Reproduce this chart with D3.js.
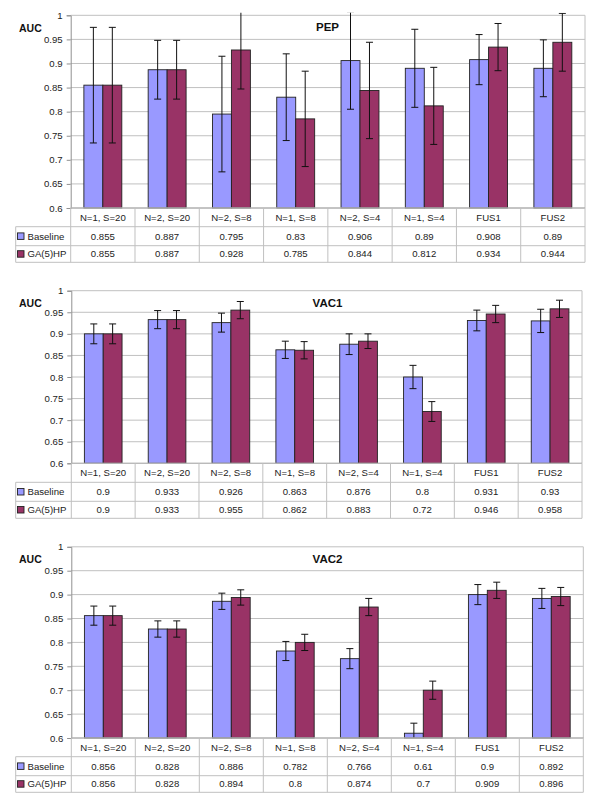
<!DOCTYPE html>
<html><head><meta charset="utf-8">
<script src="https://cdn.jsdelivr.net/npm/d3@7"></script>
<style>
html,body{margin:0;padding:0;background:#fff;}
svg{display:block;font-family:Arial,"Liberation Sans",sans-serif;}
</style></head>
<body>
<svg id="c" width="600" height="811"></svg>
<script>
const categories = ["N=1, S=20","N=2, S=20","N=2, S=8","N=1, S=8","N=2, S=4","N=1, S=4","FUS1","FUS2"];
const seriesNames = ["Baseline","GA(5)HP"];
const seriesColors = ["#9999ff","#993366"];
const yTicks = [0.6,0.65,0.7,0.75,0.8,0.85,0.9,0.95,1];
const yTickLabels = ["0.6","0.65","0.7","0.75","0.8","0.85","0.9","0.95","1"];
const tableLabels = {"PEP":[["0.855","0.887","0.795","0.83","0.906","0.89","0.908","0.89"],["0.855","0.887","0.928","0.785","0.844","0.812","0.934","0.944"]]};

const pepBaseline = [0.855,0.887,0.795,0.83,0.906,0.89,0.908,0.89];
const pepGA       = [0.855,0.887,0.928,0.785,0.844,0.812,0.934,0.944];
const pepBaselineErr = [0.12,0.061,0.12,0.09,0.101,0.081,0.052,0.059];
const pepGAErr       = [0.12,0.061,0.081,0.099,0.1,0.08,0.049,0.06];

const vac1Baseline = [0.9,0.933,0.926,0.863,0.876,0.8,0.931,0.93];
const vac1GA       = [0.9,0.933,0.955,0.862,0.883,0.72,0.946,0.958];
const vac1BaselineErr = [0.023,0.021,0.022,0.02,0.024,0.027,0.024,0.027];
const vac1GAErr       = [0.023,0.021,0.02,0.02,0.017,0.023,0.02,0.02];

const vac2Baseline = [0.856,0.828,0.886,0.782,0.766,0.61,0.9,0.892];
const vac2GA       = [0.856,0.828,0.894,0.8,0.874,0.7,0.909,0.896];
const vac2BaselineErr = [0.02,0.017,0.017,0.02,0.021,0.021,0.021,0.021];
const vac2GAErr       = [0.02,0.017,0.016,0.017,0.018,0.019,0.017,0.019];

const panels = [
  {title:"PEP", vals:[pepBaseline,pepGA], errs:[pepBaselineErr,pepGAErr],
   top:15.3, bottom:208, left:70.7, right:585, rows:[18.7,19,16.6]},
  {title:"VAC1", vals:[vac1Baseline,vac1GA], errs:[vac1BaselineErr,vac1GAErr],
   top:290.7, bottom:463.3, left:71.3, right:582, rows:[19,19,17]},
  {title:"VAC2", vals:[vac2Baseline,vac2GA], errs:[vac2BaselineErr,vac2GAErr],
   top:546.8, bottom:738, left:71.3, right:583.3, rows:[18.7,19,16.6]}
];

const svg = d3.select("#c");
const grid = "#c0c0c0";

function fmt(v){ return String(v); }

panels.forEach((p,pi)=>{
  const g = svg.append("g");
  const y = d3.scaleLinear().domain([0.6,1]).range([p.bottom,p.top]);
  const x = d3.scaleBand().domain(categories).range([p.left,p.right]).paddingInner(0).paddingOuter(0);
  const bw = x.bandwidth()*0.295;
  const xs = d3.scaleBand().domain([0,1]).range([0,bw*2]);

  // gridlines
  g.append("g").selectAll("line").data(yTicks.slice(1)).join("line")
    .attr("x1",p.left).attr("x2",p.right)
    .attr("y1",d=>y(d)).attr("y2",d=>y(d))
    .attr("stroke",grid).attr("stroke-width",1);
  // right border
  g.append("line").attr("x1",p.right).attr("x2",p.right).attr("y1",p.top).attr("y2",p.bottom)
    .attr("stroke",grid);

  // y axis
  const ax = d3.axisLeft(y).tickValues(yTicks).tickFormat((d,i)=>yTickLabels[i]).tickSize(4).tickPadding(4);
  const axg = g.append("g").attr("transform",`translate(${p.left},0)`).call(ax);
  axg.select(".domain").attr("stroke","#909090");
  axg.selectAll(".tick line").attr("stroke","#909090");
  axg.selectAll("text").attr("font-size","9.6px").attr("fill","#222")
    .attr("font-family",'Arial,"Liberation Sans",sans-serif');

  // bars
  const clipId = "clip"+pi;
  svg.append("clipPath").attr("id",clipId).append("rect")
    .attr("x",p.left).attr("y",p.top-2.6).attr("width",p.right-p.left).attr("height",p.bottom-p.top+2.6);
  const bars = g.append("g");
  p.vals.forEach((vals,si)=>{
    bars.append("g").selectAll("rect").data(vals).join("rect")
      .attr("x",(d,i)=>x(categories[i])+x.bandwidth()/2-bw+xs(si))
      .attr("y",d=>y(d)).attr("width",xs.bandwidth())
      .attr("height",d=>y(0.6)-y(d))
      .attr("fill",seriesColors[si]).attr("stroke","#222").attr("stroke-width",0.9);
  });
  // error bars
  const eg = g.append("g").attr("clip-path",`url(#${clipId})`);
  p.vals.forEach((vals,si)=>{
    vals.forEach((v,i)=>{
      const cx = x(categories[i])+x.bandwidth()/2-bw+xs(si)+xs.bandwidth()/2;
      const e = p.errs[si][i];
      const t = y(v+e), b = y(v-e);
      eg.append("line").attr("x1",cx).attr("x2",cx).attr("y1",t).attr("y2",b).attr("stroke","#111").attr("stroke-width",1);
      [t,b].forEach(yy=>eg.append("line").attr("x1",cx-3.5).attr("x2",cx+3.5).attr("y1",yy).attr("y2",yy)
        .attr("stroke","#111").attr("stroke-width",1));
    });
  });
  // x axis line (0.6)
  g.append("line").attr("x1",p.left).attr("x2",p.right).attr("y1",p.bottom).attr("y2",p.bottom).attr("stroke","#909090");

  // titles
  g.append("text").attr("x",327.5).attr("y",p.top+16).attr("text-anchor","middle")
    .attr("font-weight","bold").attr("font-size","11.5px").attr("fill","#111").text(p.title);
  g.append("text").attr("x",19).attr("y",p.top+16.5)
    .attr("font-weight","bold").attr("font-size","10.5px").attr("fill","#111").text("AUC");

  // data table
  const r0 = p.bottom, r1 = r0+p.rows[0], r2 = r1+p.rows[1], r3 = r2+p.rows[2];
  const tl = 15.7;
  const tg = g.append("g");
  const hl = [[p.left,r0],[tl,r1],[tl,r2],[tl,r3]];
  hl.forEach(([x0,yy])=>tg.append("line").attr("x1",x0).attr("x2",p.right).attr("y1",yy).attr("y2",yy).attr("stroke",grid));
  tg.append("line").attr("x1",tl).attr("x2",tl).attr("y1",r1).attr("y2",r3).attr("stroke",grid);
  const vx = categories.map(c=>x(c)).concat([p.right]);
  tg.selectAll("line.v").data(vx).join("line").attr("class","v")
    .attr("x1",d=>d).attr("x2",d=>d).attr("y1",r0).attr("y2",r3).attr("stroke",grid);
  tg.selectAll("text.cat").data(categories).join("text").attr("class","cat")
    .attr("x",d=>x(d)+x.bandwidth()/2).attr("y",(r0+r1)/2+3.4).attr("text-anchor","middle")
    .attr("font-size","9.6px").attr("fill","#222").text(d=>d);
  const rowY = [(r1+r2)/2, (r2+r3)/2];
  p.vals.forEach((vals,si)=>{
    tg.selectAll("text.v"+si).data(vals).join("text").attr("class","v"+si)
      .attr("x",(d,i)=>x(categories[i])+x.bandwidth()/2).attr("y",rowY[si]+3.4).attr("text-anchor","middle")
      .attr("font-size","9.6px").attr("fill","#222").text(d=>fmt(d));
    tg.append("rect").attr("x",17.5).attr("y",rowY[si]-3.3).attr("width",6.5).attr("height",6.5)
      .attr("fill",seriesColors[si]).attr("stroke","#222").attr("stroke-width",0.9);
    tg.append("text").attr("x",27.5).attr("y",rowY[si]+3.4).attr("font-size","9.6px").attr("fill","#222").text(seriesNames[si]);
  });
});
</script>
</body></html>
